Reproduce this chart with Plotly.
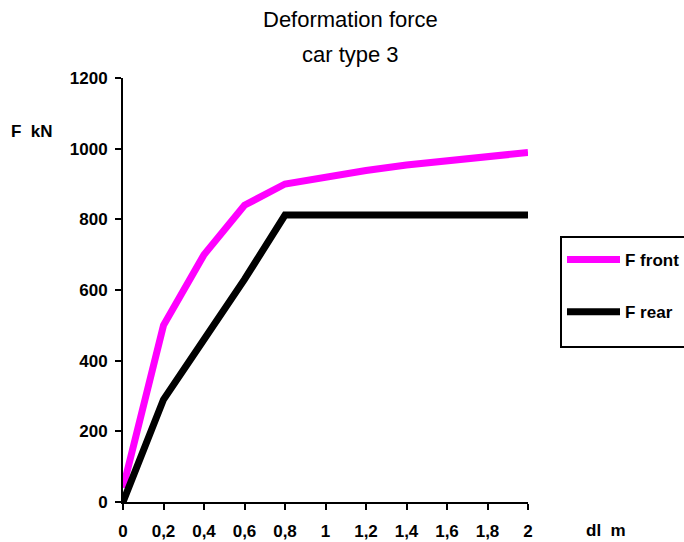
import plotly.graph_objects as go

x_vals = [0, 0.2, 0.4, 0.6, 0.8, 1.0, 1.2, 1.4, 1.6, 1.8, 2.0]
f_front = [40, 500, 700, 840, 900, 921, 938, 954, 966, 978, 989]
f_rear = [0, 290, 460, 630, 812, 812, 812, 812, 812, 812, 812]
x_tick_vals = [0, 0.2, 0.4, 0.6, 0.8, 1.0, 1.2, 1.4, 1.6, 1.8, 2.0]
x_tick_text = ["0", "0,2", "0,4", "0,6", "0,8", "1", "1,2", "1,4", "1,6", "1,8", "2"]
y_tick_vals = [0, 200, 400, 600, 800, 1000, 1200]

FONT = "Liberation Sans, Arial, sans-serif"
L, R, T, B = 123, 156, 78, 40
PW, PH = 684 - L - R, 542 - T - B


def px(xp):
    return (xp - L) / PW


def py(yp):
    return (542 - B - yp) / PH


fig = go.Figure()
fig.add_trace(go.Scatter(x=x_vals, y=f_front, mode="lines", name="F front",
                         line=dict(color="#FF00FF", width=7), legendgroup="a"))
fig.add_trace(go.Scatter(x=x_vals, y=f_rear, mode="lines", name="F rear",
                         line=dict(color="#000000", width=7), legendgroup="b"))

fig.update_layout(
    width=684, height=542,
    margin=dict(l=L, r=R, t=T, b=B, autoexpand=False),
    paper_bgcolor="white", plot_bgcolor="white",
    font=dict(family=FONT, color="black"),
    showlegend=True,
    legend=dict(x=px(562), y=py(242), xanchor="left", yanchor="top",
                borderwidth=0, bgcolor="rgba(0,0,0,0)",
                font=dict(family=FONT, size=17, color="black", weight="bold"),
                tracegroupgap=27, itemwidth=53),
    xaxis=dict(range=[0, 2], tickvals=x_tick_vals, ticktext=x_tick_text,
               automargin=False,
               showgrid=False, zeroline=False, showline=True, linecolor="black", linewidth=2,
               ticks="outside", ticklen=6, tickwidth=2, tickcolor="black",
               ticklabelstandoff=7,
               tickfont=dict(family=FONT, size=17, color="black", weight="bold")),
    yaxis=dict(range=[0, 1200], tickvals=y_tick_vals,
               automargin=False,
               showgrid=False, zeroline=False, showline=True, linecolor="black", linewidth=2,
               ticks="outside", ticklen=6, tickwidth=2, tickcolor="black",
               ticklabelstandoff=4,
               tickfont=dict(family=FONT, size=17, color="black", weight="bold")),
    shapes=[
        dict(type="rect", xref="paper", yref="paper",
             x0=px(561), x1=px(700), y0=py(347), y1=py(237),
             line=dict(color="black", width=2), fillcolor="rgba(0,0,0,0)", layer="below"),
    ],
    annotations=[
        dict(text="Deformation force", xref="paper", yref="paper", x=px(350),
             y=py(20), xanchor="center", yanchor="middle", showarrow=False,
             font=dict(family=FONT, size=22, color="black")),
        dict(text="car type 3", xref="paper", yref="paper", x=px(350),
             y=py(55), xanchor="center", yanchor="middle", showarrow=False,
             font=dict(family=FONT, size=22, color="black")),
        dict(text="F  kN", xref="paper", yref="paper", x=px(9),
             y=py(131), xanchor="left", yanchor="middle", showarrow=False,
             font=dict(family=FONT, size=17, color="black", weight="bold")),
        dict(text="dl  m", xref="paper", yref="paper", x=px(606),
             y=py(530), xanchor="center", yanchor="middle", showarrow=False,
             font=dict(family=FONT, size=17, color="black", weight="bold")),
    ],
)

fig.write_html("out.html")
